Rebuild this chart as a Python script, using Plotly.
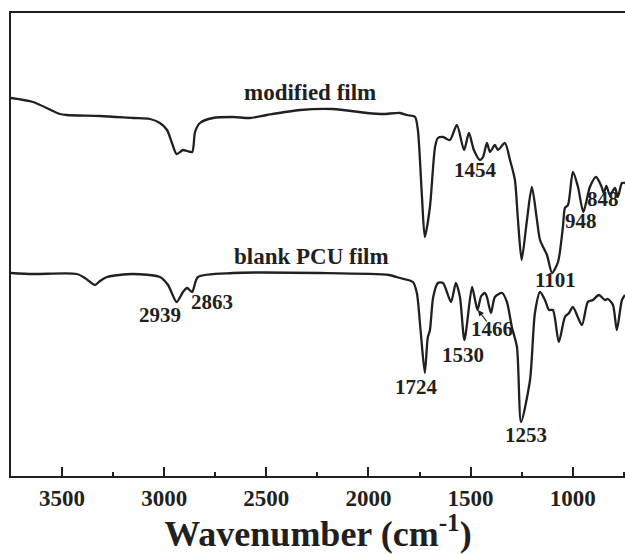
import plotly.graph_objects as go

# FTIR spectra (arbitrary transmittance units, curves vertically offset)
wn_modified = [3750, 3642, 3510, 3476, 3314, 3153, 3070, 3021, 2986, 2962, 2939, 2908,
               2888, 2863, 2849, 2825, 2761, 2663, 2580, 2497, 2335, 2174, 2007, 1929,
               1846, 1812, 1772, 1758, 1738, 1724, 1699, 1674, 1660, 1635, 1601, 1567,
               1532, 1508, 1484, 1454, 1439, 1420, 1405, 1381, 1366, 1332, 1307, 1283,
               1268, 1250, 1224, 1200, 1175, 1160, 1126, 1101, 1072, 1048, 1038, 1023,
               999, 974, 948, 916, 886, 860, 848, 835, 818, 793, 779, 759, 744]
t_modified = [378, 374, 362, 361, 360, 358, 357, 353, 346, 333, 322, 326,
              325, 324, 344, 353, 358, 359, 358, 361, 366, 367, 363, 362,
              363, 361, 359, 346, 279, 239, 269, 329, 338, 339, 336, 351,
              326, 343, 326, 316, 319, 333, 324, 331, 326, 333, 316, 296,
              256, 216, 256, 289, 256, 236, 221, 203, 214, 249, 268, 271,
              304, 289, 264, 289, 299, 290, 283, 290, 281, 288, 279, 293, 293]

wn_blank = [3750, 3642, 3427, 3388, 3339, 3314, 3280, 3153, 3021, 2981, 2939, 2908,
            2888, 2863, 2835, 2663, 2237, 1900, 1846, 1782, 1763, 1745, 1724, 1710,
            1699, 1683, 1660, 1635, 1596, 1572, 1552, 1530, 1493, 1478, 1466, 1448,
            1430, 1420, 1400, 1381, 1346, 1322, 1298, 1273, 1253, 1209, 1185, 1160,
            1136, 1116, 1097, 1068, 1038, 1018, 999, 955, 926, 901, 872, 842, 828,
            803, 784, 759, 744]
t_blank = [203, 202, 202, 198, 191, 195, 199, 202, 199, 191, 174, 184,
           188, 184, 199, 203, 203, 201, 198, 194, 183, 146, 103, 138,
           146, 179, 193, 193, 174, 193, 179, 136, 189, 176, 166, 180,
           183, 179, 163, 179, 183, 174, 149, 129, 54, 96, 163, 184,
           176, 166, 166, 134, 159, 163, 169, 151, 174, 176, 181, 176, 177,
           171, 146, 176, 181]

series_names = ["modified film", "blank PCU film"]

# peak labels: (text, x, y)
peak_labels = [("2939", 3021, 161), ("2863", 2766, 174), ("1724", 1767, 89),
               ("1530", 1537, 121), ("1466", 1395, 147), ("1253", 1229, 41),
               ("1454", 1474, 306), ("1101", 1082, 196), ("948", 960, 255),
               ("848", 852, 277)]

INK = "#231f20"
FONT = "Liberation Serif"

fig = go.Figure()
for wn, t in [(wn_modified, t_modified), (wn_blank, t_blank)]:
    fig.add_trace(go.Scatter(x=wn, y=t, mode="lines",
                             line=dict(color=INK, width=2.3, shape="spline", smoothing=0.7),
                             showlegend=False, hoverinfo="skip"))

annotations = [
    dict(text="<b>modified film</b>", x=2286, y=384, font=dict(size=23)),
    dict(text="<b>blank PCU film</b>", x=2277, y=220, font=dict(size=23)),
]
for txt, x, y in peak_labels:
    annotations.append(dict(text=f"<b>{txt}</b>", x=x, y=y, font=dict(size=21)))
for a in annotations:
    a.update(xref="x", yref="y", showarrow=False, xanchor="center", yanchor="middle")
    a["font"].update(family=FONT, color=INK)
# small pointer for the 1466 band
annotations.append(dict(x=1464, y=166, ax=1415, ay=153, xref="x", yref="y",
                        axref="x", ayref="y", text="", showarrow=True,
                        arrowhead=2, arrowsize=1, arrowwidth=1.2, arrowcolor=INK))

fig.update_layout(
    width=625, height=554,
    margin=dict(l=11, r=0, t=13, b=78),
    paper_bgcolor="white", plot_bgcolor="white",
    font=dict(family=FONT, color=INK),
    annotations=annotations,
    xaxis=dict(range=[3750, 744], showgrid=False, zeroline=False,
               showline=True, linecolor=INK, linewidth=2.2, mirror=True,
               ticks="inside", ticklen=9, tickwidth=1.6, tickcolor=INK,
               dtick=500, tick0=0,
               minor=dict(ticks="inside", ticklen=4, tickwidth=1.6, tickcolor=INK, dtick=250),
               tickfont=dict(family=FONT, size=23, color=INK),
               tickprefix="<b>", ticksuffix="</b>",
               title=dict(text="<b>Wavenumber (cm<sup>-1</sup>)</b>",
                          font=dict(family=FONT, size=36, color=INK), standoff=9)),
    yaxis=dict(range=[0, 463], showgrid=False, zeroline=False, showticklabels=False,
               showline=True, linecolor=INK, linewidth=2.2, ticks=""),
)

fig.write_html("out.html")
